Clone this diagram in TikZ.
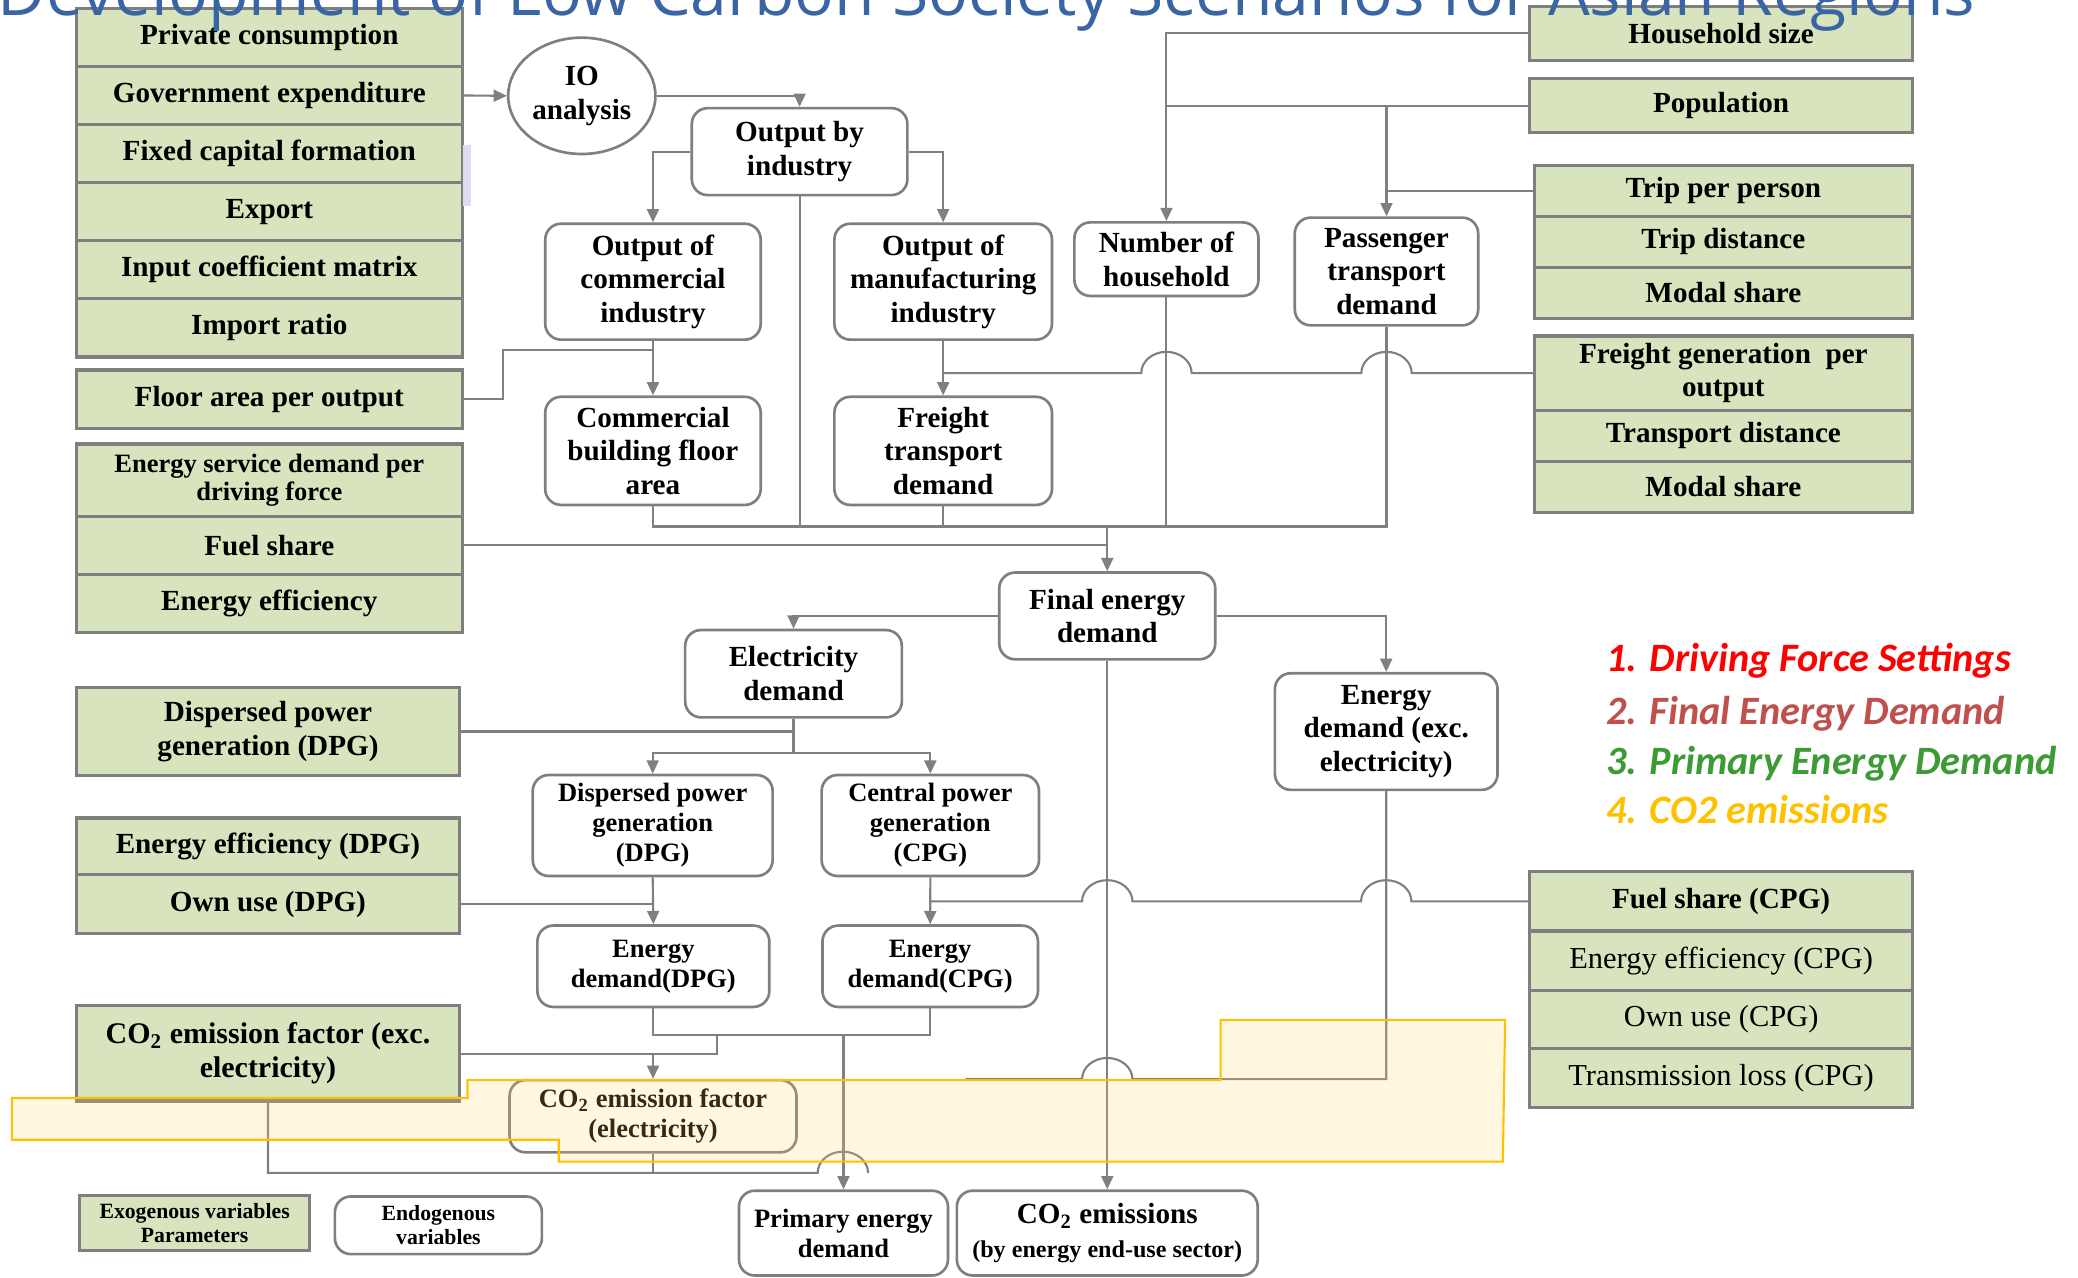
\documentclass[tikz,border=0pt]{standalone}
\usepackage{fontspec}
\setmainfont{Liberation Serif}
\newfontfamily\titlefont{Open Sans}
\newfontfamily\legfont{Carlito}
\usetikzlibrary{shapes.geometric,arrows.meta}
\definecolor{lngray}{HTML}{808080}
\definecolor{bgray}{HTML}{7F7F7F}
\definecolor{gfill}{HTML}{D7E4BD}
\definecolor{tblue}{HTML}{3A65A5}
\definecolor{hlyel}{HTML}{FFC000}
\definecolor{hlfill}{HTML}{FFD966}
\definecolor{lavend}{HTML}{DCDCF5}
\definecolor{cone}{HTML}{FF0000}
\definecolor{ctwo}{HTML}{C0504D}
\definecolor{cthree}{HTML}{3D9B35}
\definecolor{cfour}{HTML}{FFC000}
\tikzset{
  bw/.style={minimum width=#1*0.5pt},
  bh/.style={minimum height=#1*0.5pt},
  txt/.style={font=\bfseries\fontsize{11}{12.7}\selectfont, align=center, inner sep=1pt},
  smalltxt/.style={font=\bfseries\fontsize{10}{11.3}\selectfont},
  gbox/.style={txt, rectangle, draw=bgray, line width=1.2pt, fill=gfill},
  rbox/.style={txt, rectangle, rounded corners=6pt, draw=bgray, line width=1pt, fill=white},
  conn/.style={draw=lngray, line width=0.8pt},
  arr/.style={conn, -{Triangle[length=5pt,width=4.5pt]}},
  legtxt/.style={anchor=base west, inner sep=0pt, font=\legfont\bfseries\itshape\fontsize{15.2}{17}\selectfont},
  jmp/.style={x radius=9.5pt, y radius=8pt}
}
\begin{document}
\begin{tikzpicture}[x=0.5pt,y=-0.5pt]
\useasboundingbox (0,0) rectangle (1568,964);
\clip (0,0) rectangle (1568,964);

% ---- left exogenous boxes
\node[gbox, bw=291.2, bh=44]   (pc) at (203.2,28.2)   {Private consumption};
\node[gbox, bw=291.2, bh=43.7] (ge) at (203.2,72.05)  {Government expenditure};
\node[gbox, bw=291.2, bh=43.7] (fc) at (203.2,115.75) {Fixed capital formation};
\node[gbox, bw=291.2, bh=44.1] (ex) at (203.2,159.65) {Export};
\node[gbox, bw=291.2, bh=43.8] (ic) at (203.2,203.6)  {Input coefficient matrix};
\node[gbox, bw=291.2, bh=43.9] (ir) at (203.2,247.45) {Import ratio};
\node[gbox, bw=291.2, bh=44.2] (fa) at (203.2,301.3)  {Floor area per output};
\node[gbox, bw=291.2, bh=54.6, font=\bfseries\fontsize{10}{10.8}\selectfont] (es) at (203.2,362.3) {Energy service demand per\\driving force};
\node[gbox, bw=291.2, bh=43.7] (fs) at (203.2,411.45) {Fuel share};
\node[gbox, bw=291.2, bh=44.1] (ee) at (203.2,455.35) {Energy efficiency};
\node[gbox, bw=289.2, bh=66]   (dpgg) at (202.2,552)  {Dispersed power\\generation (DPG)};
\node[gbox, bw=289.2, bh=42.8] (eeg) at (202.2,638.6) {Energy efficiency (DPG)};
\node[gbox, bw=289.2, bh=44.5] (oug) at (202.2,682.25) {Own use (DPG)};
\node[gbox, bw=289.2, bh=72, font=\bfseries\fontsize{11.3}{12.7}\selectfont] (cfx) at (202.2,794.8) {CO\textsubscript{2} emission factor (exc.\\electricity)};
\node[gbox, bw=173.7, bh=41.4, font=\bfseries\fontsize{8.2}{9.2}\selectfont] (exo) at (146.85,922.9) {Exogenous variables\\Parameters};
\node[rbox, bw=156.2, bh=43.5, font=\bfseries\fontsize{8.2}{9.2}\selectfont] (endo) at (330.8,924.55) {Endogenous\\variables};
\fill[lavend] (349.5,109.4) rectangle (355.3,155.5);

% ---- right exogenous boxes
\node[gbox, bw=288.6, bh=41]   (hs)  at (1298.7,25.1)   {Household size};
\node[gbox, bw=288.6, bh=40.7] (pop) at (1298.7,79.75)  {Population};
\node[gbox, bw=285.2, bh=38.5] (tp)  at (1300.4,143.95) {Trip per person};
\node[gbox, bw=285.2, bh=38.5] (td)  at (1300.4,182.45) {Trip distance};
\node[gbox, bw=285.2, bh=38.5] (msa) at (1300.4,220.95) {Modal share};
\node[gbox, bw=285.2, bh=56]   (fg)  at (1300.4,281.5)  {Freight generation\ \ per\\output};
\node[gbox, bw=285.2, bh=38.5] (trd) at (1300.4,328.75) {Transport distance};
\node[gbox, bw=285.2, bh=38.5] (msb) at (1300.4,367.25) {Modal share};
\node[gbox, bw=288.6, bh=44.7] (fsc) at (1298.7,680.15) {Fuel share (CPG)};
\node[gbox, bw=288.6, bh=44.7, font=\fontsize{11.5}{13}\selectfont] (eec) at (1298.7,724.85) {Energy efficiency (CPG)};
\node[gbox, bw=288.6, bh=43.7, font=\fontsize{11.5}{13}\selectfont] (ouc) at (1298.7,769.05) {Own use (CPG)};
\node[gbox, bw=288.6, bh=44.6, font=\fontsize{11.5}{13}\selectfont] (tlc) at (1298.7,813.2) {Transmission loss (CPG)};

% ---- endogenous nodes
\node[txt, ellipse, draw=bgray, line width=1pt, fill=white, bw=107.4, bh=87.8] (io) at (439,72.3) {IO\\analysis};
\node[rbox, bw=162.7, bh=65.6] (obi) at (603.35,114.4) {Output by\\industry};
\node[rbox, bw=162.6, bh=87.5] (oci) at (492.7,212.55) {Output of\\commercial\\industry};
\node[rbox, bw=164.2, bh=87.5] (omi) at (711.7,212.55) {Output of\\manufacturing\\industry};
\node[rbox, bw=162.6, bh=81.6] (cbf) at (492.7,340.2) {Commercial\\building floor\\area};
\node[rbox, bw=164.2, bh=81.6] (ftd) at (711.7,340.2) {Freight\\transport\\demand};
\node[rbox, bw=138.9, bh=55.5] (noh) at (880.15,195.55) {Number of\\household};
\node[rbox, bw=138.4, bh=81.3] (ptd) at (1046.2,204.85) {Passenger\\transport\\demand};
\node[rbox, bw=163,   bh=65.5] (fed) at (835.5,464.75) {Final energy\\demand};
\node[rbox, bw=163.5, bh=65.9] (eld) at (598.75,508.35) {Electricity\\demand};
\node[rbox, bw=168,   bh=88]   (ede) at (1046,552) {Energy\\demand (exc.\\electricity)};
\node[rbox, smalltxt, bw=181, bh=76.2] (dpg) at (492.5,622.9) {Dispersed power\\generation\\(DPG)};
\node[rbox, smalltxt, bw=164, bh=76.2] (cpg) at (702,622.9) {Central power\\generation\\(CPG)};
\node[rbox, smalltxt, bw=175, bh=61.4] (edd) at (493,729.1) {Energy\\demand(DPG)};
\node[rbox, smalltxt, bw=162.6, bh=61.4] (edc) at (701.9,729.1) {\raisebox{2.5pt}{\begin{tabular}{@{}c@{}}Energy\\demand(CPG)\end{tabular}}};
\node[rbox, smalltxt, bw=216.5, bh=54.5] (cfe) at (492.75,842.25) {CO\textsubscript{2} emission factor\\(electricity)};
\node[rbox, smalltxt, bw=157.7, bh=64] (ped) at (636.45,930.45) {Primary energy\\demand};
\node[rbox, bw=227, bh=64] (coe) at (835.5,930.45) {CO\textsubscript{2} emissions\\{\fontsize{9.1}{10}\selectfont(by energy end-use sector)}};

% ---- legend
\node[legtxt, text=cone]   (lga) at (1211.8,507)   {1. Driving Force Settings};
\node[legtxt, text=ctwo]   (lgb) at (1211.8,547)   {2. Final Energy Demand};
\node[legtxt, text=cthree] (lgc) at (1211.8,584.5) {3. Primary Energy Demand};
\node[legtxt, text=cfour]  (lgd) at (1211.8,621.5) {4. CO2 emissions};

% ---- helper coordinates
\coordinate (ycol) at (0,397.3);
\coordinate (yfl) at (379.3,264.3);
\coordinate (yel) at (0,568.5);
\coordinate (yedc) at (0,781);
\coordinate (yco) at (540.9,795);
\coordinate (ybot) at (0,885);

% ---- connectors (upper part)
\draw[arr] (ge.east) -- (io.west);
\draw[arr] (io.east) -| (obi.north);
\draw[arr] (obi.west) -| (oci.north);
\draw[arr] (obi.east) -| (omi.north);
\draw[arr] (oci.south) -- (cbf.north);
\draw[arr] (omi.south) -- (ftd.north);
\draw[conn] (fa.east) -| (yfl) -- (oci.south |- yfl);
\draw[arr] (hs.west) -| (noh.north);
\draw[conn] (pop.west) -- (noh.north |- pop.west);
\draw[arr] (ptd.north |- pop.west) -- (ptd.north);
\draw[conn] (tp.west) -- (ptd.north |- tp.west);
\draw[conn] (fg.west) -- (1065.2,281.5) arc[start angle=0,end angle=180,jmp]
  -- (899.15,281.5) arc[start angle=0,end angle=180,jmp] -- (omi.south |- fg.west);
\draw[conn] (cbf.south) |- (ptd.south |- ycol) -- (ptd.south);
\draw[conn] (obi.south) -- (obi.south |- ycol);
\draw[conn] (ftd.south) -- (ftd.south |- ycol);
\draw[conn] (noh.south) -- (noh.south |- ycol);
\draw[arr] (fed.north |- ycol) -- (fed.north);
\draw[conn] (fs.east) -- (fed.north |- fs.east);

% ---- connectors (lower part)
\draw[arr] (fed.west) -| (eld.north);
\draw[arr] (fed.east) -| (ede.north);
\draw[arr] (fed.south) -- (coe.north);
\draw[conn] (dpgg.east) -- (eld.south |- dpgg.east);
\draw[conn] (eld.south) -- (eld.south |- yel);
\draw[arr] (eld.south |- yel) -| (dpg.north);
\draw[arr] (eld.south |- yel) -| (cpg.north);
\draw[conn] (oug.east) -- (dpg.south |- oug.east);
\draw[arr] (dpg.south) -- (edd.north);
\draw[arr] (cpg.south) -- (edc.north);
\draw[conn] (fsc.west) -- (1065,680.15) arc[start angle=0,end angle=180,jmp]
  -- (854.5,680.15) arc[start angle=0,end angle=180,jmp] -- (cpg.south |- fsc.west);
\draw[conn] (edd.south) |- (edc.south |- yedc) -- (edc.south);
\draw[arr] (ped.north |- yedc) -- (ped.north);
\draw[conn] (yco |- yedc) -- (yco) -- (cfx.east |- yco);
\draw[arr] (cfe.north |- yco) -- (cfe.north);
\draw[conn] (ede.south) -- (1046,814.3) -- (854.5,814.3) arc[start angle=0,end angle=180,jmp] -- (728.5,814.3);
\draw[conn] (cfx.south) |- (617,885) arc[start angle=180,end angle=0,jmp];
\draw[conn] (cfe.south) -- (cfe.south |- ybot);

% ---- highlight
\draw[hlyel, line width=0.8pt, fill=hlfill, fill opacity=0.2]
  (9,828.5) -- (352.8,828.5) -- (352.8,815) -- (921,815) -- (921,769.6) -- (1135.7,769.6)
  -- (1134,876.5) -- (421.6,876.5) -- (421.6,860) -- (9,860) -- cycle;

% ---- title (drawn over the boxes, cut at the top edge)
\node[anchor=base west, inner sep=0pt, text=tblue] (title) at (-2,11.5)
  {\resizebox{746pt}{!}{\titlefont Development of Low Carbon Society Scenarios for Asian Regions}};
\end{tikzpicture}
\end{document}
